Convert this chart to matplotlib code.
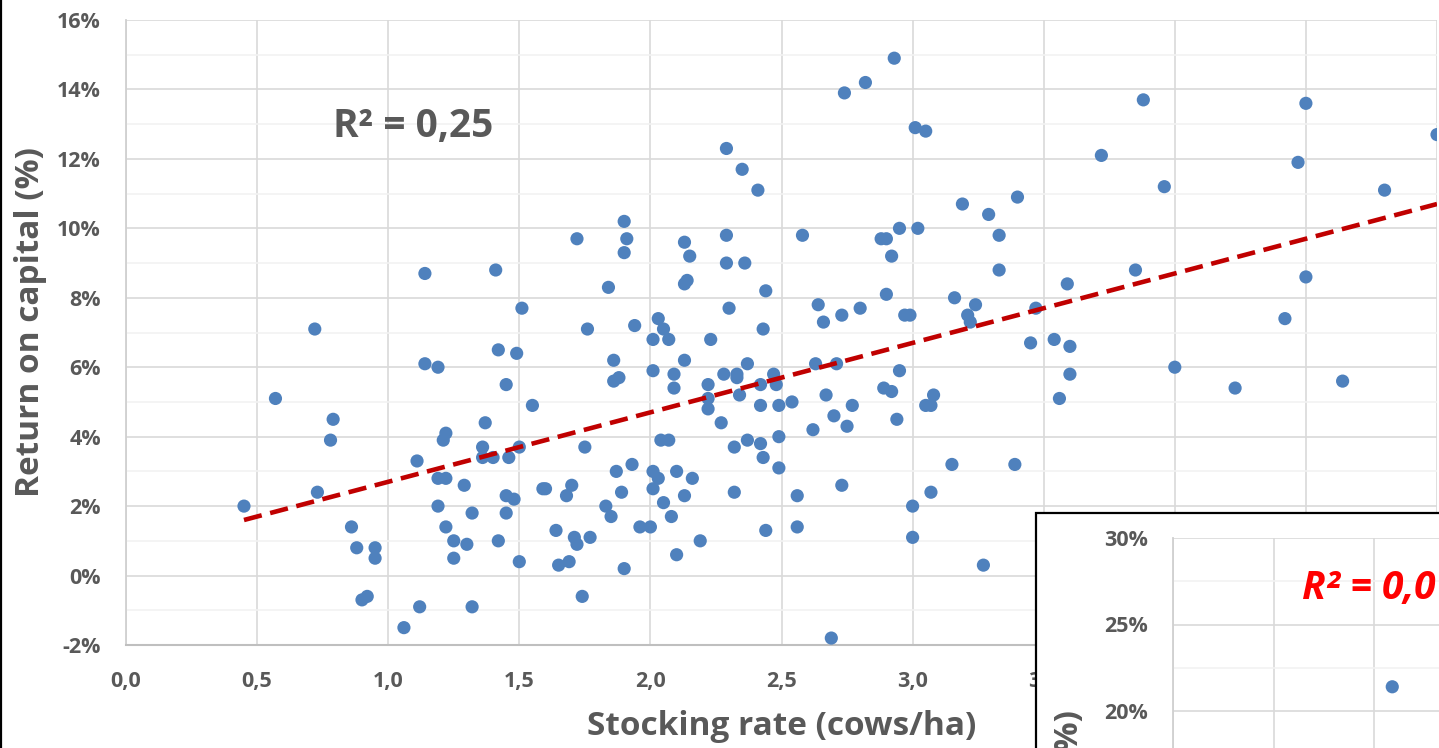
import matplotlib
matplotlib.use("Agg")
import matplotlib.pyplot as plt
from matplotlib.patches import Rectangle
from matplotlib.lines import Line2D
from matplotlib.ticker import MultipleLocator
import numpy as np

plt.rcParams['font.family'] = ['Open Sans', 'DejaVu Sans']

# stocking rate (cows/ha) for each farm
stocking_rate = [
    0.45, 0.57, 0.72, 0.73, 0.79, 0.78, 0.86, 0.88, 0.95, 0.95, 0.90, 0.92,
    1.06, 1.11, 1.12, 1.14, 1.14, 1.19, 1.19, 1.22, 1.19, 1.21, 1.22, 1.22,
    1.25, 1.25, 1.29, 1.30, 1.32, 1.32, 1.37, 1.36, 1.36, 1.40, 1.41, 1.42,
    1.42, 1.45, 1.46, 1.45, 1.48, 1.45, 1.49, 1.51, 1.50, 1.50, 1.55, 1.59,
    1.60, 1.64, 1.65, 1.68, 1.70, 1.69, 1.71, 1.72, 1.72, 1.74, 1.75, 1.76,
    1.77, 1.83, 1.84, 1.85, 1.86, 1.86, 1.88, 1.87, 1.89, 1.90, 1.91, 1.90,
    1.90, 1.93, 1.94, 1.96, 2.00, 2.01, 2.01, 2.01, 2.03, 2.01, 2.03, 2.04,
    2.05, 2.05, 2.07, 2.07, 2.08, 2.09, 2.09, 2.10, 2.10, 2.13, 2.13, 2.14,
    2.13, 2.13, 2.15, 2.16, 2.19, 2.23, 2.22, 2.22, 2.22, 2.27, 2.28, 2.29,
    2.29, 2.29, 2.30, 2.32, 2.32, 2.33, 2.33, 2.34, 2.35, 2.36, 2.37, 2.37,
    2.41, 2.42, 2.42, 2.42, 2.43, 2.43, 2.44, 2.44, 2.47, 2.48, 2.49, 2.49,
    2.49, 2.54, 2.56, 2.56, 2.58, 2.62, 2.63, 2.64, 2.66, 2.67, 2.69, 2.70,
    2.71, 2.73, 2.73, 2.74, 2.75, 2.77, 2.80, 2.82, 2.88, 2.90, 2.89, 2.90,
    2.92, 2.92, 2.93, 2.94, 2.95, 2.95, 2.97, 2.99, 3.00, 3.00, 3.01, 3.02,
    3.05, 3.05, 3.07, 3.08, 3.07, 3.15, 3.16, 3.19, 3.21, 3.22, 3.24, 3.27,
    3.29, 3.33, 3.33, 3.39, 3.40, 3.45, 3.47, 3.54, 3.56, 3.59, 3.60, 3.60,
    3.72, 3.85, 3.88, 3.96, 4.00, 4.23, 4.42, 4.47, 4.50, 4.50, 4.64, 4.80,
    5.00,
]

# return on capital (%) for the same farms
return_on_capital = [
    2.0, 5.1, 7.1, 2.4, 4.5, 3.9, 1.4, 0.8, 0.8, 0.5, -0.7, -0.6,
    -1.5, 3.3, -0.9, 8.7, 6.1, 6.0, 2.8, 2.8, 2.0, 3.9, 4.1, 1.4,
    1.0, 0.5, 2.6, 0.9, 1.8, -0.9, 4.4, 3.7, 3.4, 3.4, 8.8, 6.5,
    1.0, 5.5, 3.4, 2.3, 2.2, 1.8, 6.4, 7.7, 3.7, 0.4, 4.9, 2.5,
    2.5, 1.3, 0.3, 2.3, 2.6, 0.4, 1.1, 0.9, 9.7, -0.6, 3.7, 7.1,
    1.1, 2.0, 8.3, 1.7, 6.2, 5.6, 5.7, 3.0, 2.4, 10.2, 9.7, 9.3,
    0.2, 3.2, 7.2, 1.4, 1.4, 6.8, 5.9, 3.0, 2.8, 2.5, 7.4, 3.9,
    7.1, 2.1, 6.8, 3.9, 1.7, 5.8, 5.4, 3.0, 0.6, 9.6, 8.4, 8.5,
    2.3, 6.2, 9.2, 2.8, 1.0, 6.8, 5.5, 4.8, 5.1, 4.4, 5.8, 12.3,
    9.8, 9.0, 7.7, 2.4, 3.7, 5.8, 5.7, 5.2, 11.7, 9.0, 6.1, 3.9,
    11.1, 5.5, 4.9, 3.8, 7.1, 3.4, 8.2, 1.3, 5.8, 5.5, 4.0, 4.9,
    3.1, 5.0, 2.3, 1.4, 9.8, 4.2, 6.1, 7.8, 7.3, 5.2, -1.8, 4.6,
    6.1, 2.6, 7.5, 13.9, 4.3, 4.9, 7.7, 14.2, 9.7, 9.7, 5.4, 8.1,
    9.2, 5.3, 14.9, 4.5, 10.0, 5.9, 7.5, 7.5, 2.0, 1.1, 12.9, 10.0,
    12.8, 4.9, 4.9, 5.2, 2.4, 3.2, 8.0, 10.7, 7.5, 7.3, 7.8, 0.3,
    10.4, 9.8, 8.8, 3.2, 10.9, 6.7, 7.7, 6.8, 5.1, 8.4, 6.6, 5.8,
    12.1, 8.8, 13.7, 11.2, 6.0, 5.4, 7.4, 11.9, 13.6, 8.6, 5.6, 11.1,
    12.7,
]

# linear trendline as shown on the chart (% = slope * rate + intercept)
trend_slope = 2.0
trend_intercept = 0.7
r2_label = "R² = 0,25"

x_ticks = [0.0, 0.5, 1.0, 1.5, 2.0, 2.5, 3.0, 3.5, 4.0, 4.5, 5.0]
y_ticks = [-2, 0, 2, 4, 6, 8, 10, 12, 14, 16]

# second chart pasted over the corner (mostly cut off)
inset_rate = [1.09]
inset_return = [21.4]
inset_y_ticks = [20, 25, 30]
inset_r2_label = "R² = 0,01"

grey = '#595959'
blue = '#4F81BD'
W, H = 1439, 748

fig = plt.figure(figsize=(W / 100, H / 100), dpi=100)
ax = fig.add_axes([126 / W, (H - 645) / H, (1437 - 126) / W, 625 / H])

ax.scatter(stocking_rate, return_on_capital, s=90, color=blue, edgecolors='none', zorder=3)

tx = np.array([min(stocking_rate), max(stocking_rate)])
ax.plot(tx, trend_slope * tx + trend_intercept, color='#C00000', lw=3.3,
        linestyle=(0, (4.0, 1.9)), zorder=4, solid_capstyle='butt')

ax.set_xlim(0, 5.0)
ax.set_ylim(-2, 16)
ax.set_xticks(x_ticks, labels=[f"{v:.1f}".replace('.', ',') for v in x_ticks])
ax.set_yticks(y_ticks, labels=[f"{v}%" for v in y_ticks])
ax.yaxis.set_minor_locator(MultipleLocator(1))
for lab, v in zip(ax.get_yticklabels(), y_ticks):
    if v < 0:
        lab.set_color('#FF0000')

ax.tick_params(axis='both', which='both', length=0, labelsize=15.5, labelcolor=grey)
ax.tick_params(axis='x', pad=19)
ax.tick_params(axis='y', pad=18)
for lab in ax.get_xticklabels() + ax.get_yticklabels():
    lab.set_fontweight('bold')

ax.grid(True, which='major', color='#D9D9D9', lw=1.2, zorder=0)
ax.grid(True, which='minor', axis='y', color='#F2F2F2', lw=1.2, zorder=0)
ax.set_axisbelow(True)
for side in ['top', 'right']:
    ax.spines[side].set_visible(False)
ax.spines['left'].set_color('#D0D0D0')
ax.spines['bottom'].set_color('#BFBFBF')
ax.spines['left'].set_linewidth(1.3)
ax.spines['bottom'].set_linewidth(1.5)

ax.set_xlabel("Stocking rate (cows/ha)", fontsize=24, fontweight='bold', color=grey)
ax.xaxis.set_label_coords(0.5, -0.13)
ax.xaxis.label.set_va('center')
ax.set_ylabel("Return on capital (%)", fontsize=24, fontweight='bold', color=grey)
ax.yaxis.set_label_coords(-0.073, 0.517)
ax.yaxis.label.set_va('center')

ax.text(0.158, 0.829, r2_label, transform=ax.transAxes, fontsize=28,
        fontweight='bold', color=grey, ha='left', va='center')

# frame of the pasted chart
frame = Rectangle((1036 / W, -0.3), 0.5, (H - 513) / H + 0.3, transform=fig.transFigure,
                  facecolor='white', edgecolor='black', lw=1.6, zorder=5)
fig.add_artist(frame)

iax = fig.add_axes([1173 / W, (H - 884) / H, 523 / W, 346 / H])
iax.set_zorder(6)
iax.scatter(inset_rate, inset_return, s=90, color=blue, edgecolors='none', zorder=3)
iax.set_xlim(0, 2.6)
iax.set_ylim(10, 30)
iax.xaxis.set_major_locator(MultipleLocator(0.5))
iax.set_xticklabels([])
iax.set_yticks(inset_y_ticks, labels=[f"{v}%" for v in inset_y_ticks])
iax.yaxis.set_minor_locator(MultipleLocator(2.5))
iax.tick_params(axis='both', which='both', length=0, labelsize=15.5, labelcolor=grey)
iax.tick_params(axis='y', pad=18)
for lab in iax.get_yticklabels():
    lab.set_fontweight('bold')
iax.grid(True, which='major', color='#D9D9D9', lw=1.2, zorder=0)
iax.grid(True, which='minor', axis='y', color='#F2F2F2', lw=1.2, zorder=0)
iax.set_axisbelow(True)
for side in ['top', 'right', 'bottom']:
    iax.spines[side].set_visible(False)
iax.spines['left'].set_color('#D0D0D0')
iax.spines['left'].set_linewidth(1.3)
iax.text(0.247, 0.855, inset_r2_label, transform=iax.transAxes, fontsize=28,
         fontweight='bold', fontstyle='italic', color='#FF0000', ha='left', va='center')

fig.text(1070 / W, (H - 710) / H, "Return on capital (%)", rotation=90, fontsize=24,
         fontweight='bold', color=grey, ha='center', va='top', zorder=7)

fig.add_artist(Line2D([0.0008, 0.0008], [0, 1], transform=fig.transFigure, color='black', lw=1.6))

fig.savefig("out.png", dpi=100)
